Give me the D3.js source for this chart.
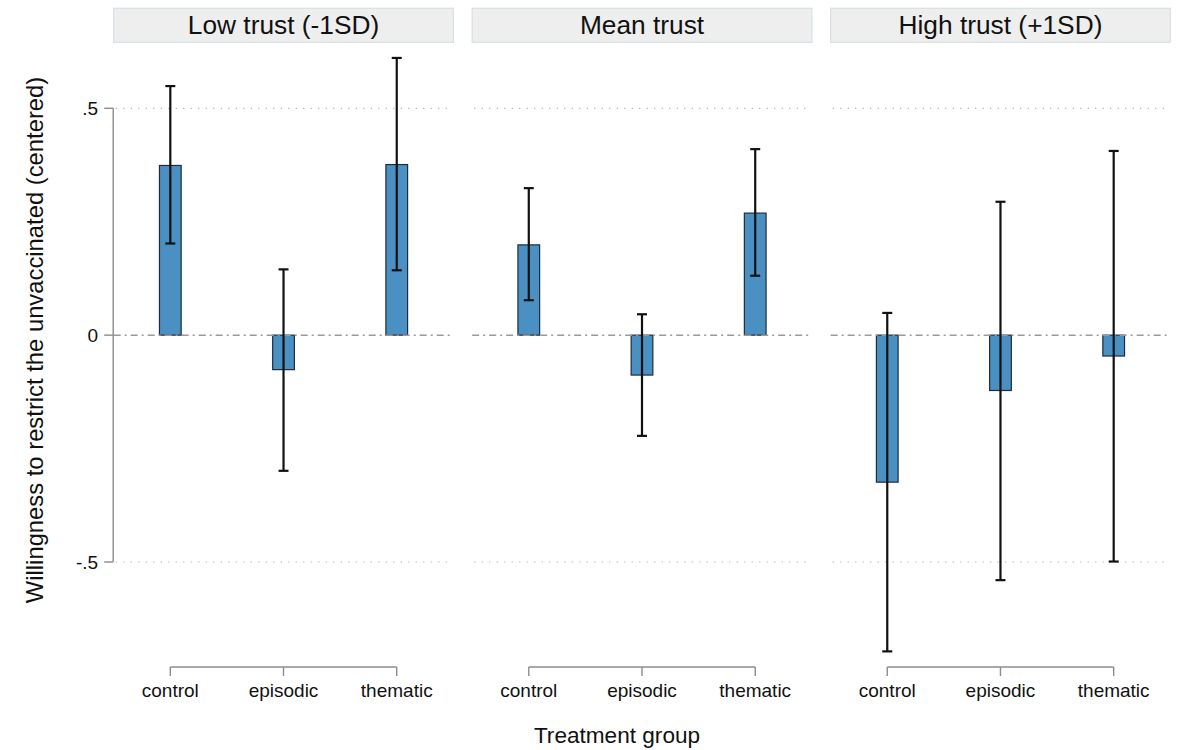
<!DOCTYPE html>
<html>
<head>
<meta charset="utf-8">
<script src="https://cdn.jsdelivr.net/npm/d3@7"></script>
<style>
  html, body { margin: 0; padding: 0; background: #fff; }
  svg { display: block; font-family: "Liberation Sans", Arial, Helvetica, sans-serif; }
</style>
</head>
<body>
<svg id="chart" width="1178" height="750"></svg>
<script>
// ---- Data ----
const panels = ["Low trust (-1SD)", "Mean trust", "High trust (+1SD)"];
const categories = ["control", "episodic", "thematic"];
const yTicks = [-0.5, 0, 0.5];
const yTickLabels = ["-.5", "0", ".5"];

const lowEst  = [0.374, -0.076, 0.376];
const lowLo   = [0.202, -0.299, 0.143];
const lowHi   = [0.549,  0.145, 0.611];

const meanEst = [0.199, -0.088, 0.269];
const meanLo  = [0.077, -0.222, 0.131];
const meanHi  = [0.324,  0.046, 0.410];

const highEst = [-0.324, -0.122, -0.046];
const highLo  = [-0.697, -0.540, -0.499];
const highHi  = [ 0.049,  0.294,  0.406];

const yTitle = "Willingness to restrict the unvaccinated (centered)";
const xTitle = "Treatment group";

const series = [
  {est: lowEst, lo: lowLo, hi: lowHi},
  {est: meanEst, lo: meanLo, hi: meanHi},
  {est: highEst, lo: highLo, hi: highHi}
];

// ---- Layout ----
const svg = d3.select("#chart");
const plotLeft = 113.7, plotRight = 1170.3;
const y = d3.scaleLinear().domain([-0.5, 0.5]).range([562, 108.3]);

const panelScale = d3.scaleBand().domain(panels).range([plotLeft, plotRight]).paddingInner(0.0525).paddingOuter(0);
const pw = panelScale.bandwidth();
const barW = 21.7;
const capW = 10;
const barFill = "#4a90c3";
const barStroke = "#1f2d3a";

// y axis
const yAxisG = svg.append("g").attr("transform", `translate(${plotLeft - 0.5},0)`);
yAxisG.append("line").attr("x1", 0).attr("x2", 0).attr("y1", y(0.5)).attr("y2", y(-0.5))
  .attr("stroke", "#8c8c8c").attr("stroke-width", 1.4);
yTicks.forEach((t, i) => {
  yAxisG.append("line").attr("x1", -9).attr("x2", 0).attr("y1", y(t)).attr("y2", y(t))
    .attr("stroke", "#8c8c8c").attr("stroke-width", 1.4);
  yAxisG.append("text").attr("x", -15).attr("y", y(t)).attr("dy", "0.35em")
    .attr("text-anchor", "end").attr("font-size", 19).attr("fill", "#111")
    .text(yTickLabels[i]);
});

// y title
svg.append("text")
  .attr("transform", `translate(43,340) rotate(-90)`)
  .attr("text-anchor", "middle").attr("font-size", 23.8).attr("fill", "#111")
  .text(yTitle);

// x title
svg.append("text").attr("x", 617).attr("y", 743).attr("text-anchor", "middle")
  .attr("font-size", 22.6).attr("fill", "#111").text(xTitle);

panels.forEach((p, pi) => {
  const p0 = panelScale(p);
  const x = d3.scalePoint().domain(categories).range([p0, p0 + pw]).padding(0.5);
  const g = svg.append("g");
  const s = series[pi];

  // header
  g.append("rect").attr("x", p0).attr("y", 8.3).attr("width", pw).attr("height", 34)
    .attr("fill", "#eeeeee").attr("stroke", "#d6e0e5").attr("stroke-width", 1.2);
  g.append("text").attr("x", p0 + pw / 2).attr("y", 33.8).attr("text-anchor", "middle")
    .attr("font-size", 26.3).attr("fill", "#111").text(p);

  // grid dotted lines at +/-0.5
  [0.5, -0.5].forEach(t => {
    g.append("line").attr("x1", p0 + 2).attr("x2", p0 + pw - 2).attr("y1", y(t)).attr("y2", y(t))
      .attr("stroke", "#b0b0b0").attr("stroke-width", 1.2).attr("stroke-dasharray", "1.2,6.3");
  });

  // bars
  categories.forEach((c, ci) => {
    const v = s.est[ci];
    g.append("rect").attr("x", x(c) - barW / 2)
      .attr("y", y(Math.max(0, v)))
      .attr("width", barW)
      .attr("height", Math.abs(y(v) - y(0)))
      .attr("fill", barFill).attr("stroke", barStroke).attr("stroke-width", 1.2);
  });

  // zero line (dash-dot)
  g.append("line").attr("x1", p0).attr("x2", p0 + pw - 2).attr("y1", y(0)).attr("y2", y(0))
    .attr("stroke", "#9a9a9a").attr("stroke-width", 1.5).attr("stroke-dasharray", "7,4,2,4");

  // error bars
  categories.forEach((c, ci) => {
    const cx = x(c);
    g.append("line").attr("x1", cx).attr("x2", cx).attr("y1", y(s.lo[ci])).attr("y2", y(s.hi[ci]))
      .attr("stroke", "#111").attr("stroke-width", 2.2);
    [s.lo[ci], s.hi[ci]].forEach(v => {
      g.append("line").attr("x1", cx - capW / 2).attr("x2", cx + capW / 2).attr("y1", y(v)).attr("y2", y(v))
        .attr("stroke", "#111").attr("stroke-width", 2.2);
    });
  });

  // x axis bracket
  const ax = svg.append("g");
  ax.append("line").attr("x1", x(categories[0])).attr("x2", x(categories[categories.length - 1]))
    .attr("y1", 667).attr("y2", 667).attr("stroke", "#8c8c8c").attr("stroke-width", 1.4);
  categories.forEach(c => {
    ax.append("line").attr("x1", x(c)).attr("x2", x(c)).attr("y1", 667).attr("y2", 676)
      .attr("stroke", "#8c8c8c").attr("stroke-width", 1.4);
    ax.append("text").attr("x", x(c)).attr("y", 697).attr("text-anchor", "middle")
      .attr("font-size", 19).attr("fill", "#111").text(c);
  });
});
</script>
</body>
</html>
